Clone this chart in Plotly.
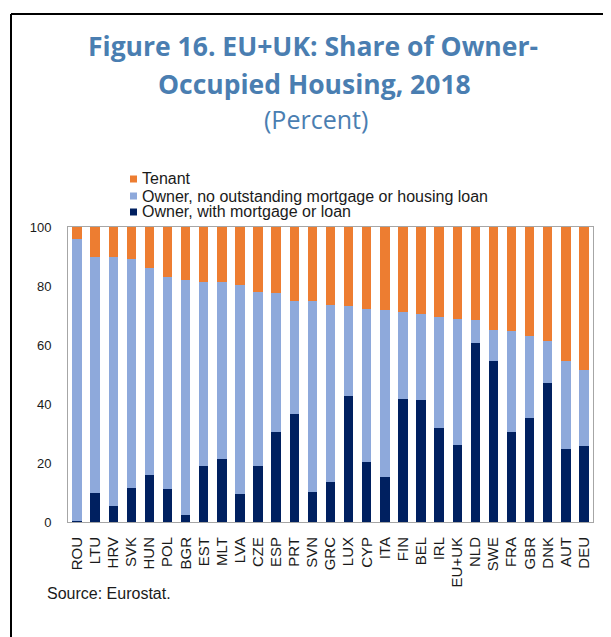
import plotly.graph_objects as go

countries = ["ROU", "LTU", "HRV", "SVK", "HUN", "POL", "BGR", "EST", "MLT", "LVA",
             "CZE", "ESP", "PRT", "SVN", "GRC", "LUX", "CYP", "ITA", "FIN", "BEL",
             "IRL", "EU+UK", "NLD", "SWE", "FRA", "GBR", "DNK", "AUT", "DEU"]

# shares in percent
with_mortgage = [0.5, 10.0, 5.5, 11.6, 15.9, 11.1, 2.5, 19.0, 21.5, 9.6,
                 19.0, 30.6, 36.5, 10.2, 13.5, 42.8, 20.2, 15.4, 41.6, 41.2,
                 32.0, 26.2, 60.7, 54.7, 30.6, 35.2, 47.2, 24.9, 25.7]
no_mortgage = [95.5, 80.0, 84.5, 77.6, 70.2, 72.1, 79.6, 62.2, 59.7, 70.9,
               59.1, 47.1, 38.4, 64.8, 60.2, 30.5, 51.9, 56.4, 29.7, 29.4,
               37.4, 42.7, 7.8, 10.3, 34.0, 27.8, 14.2, 29.7, 25.8]
tenant = [4.0, 10.0, 10.0, 10.8, 13.9, 16.8, 17.9, 18.8, 18.8, 19.5,
          21.9, 22.3, 25.1, 25.0, 26.3, 26.7, 27.9, 28.2, 28.7, 29.4,
          30.6, 31.1, 31.5, 35.0, 35.4, 37.0, 38.6, 45.4, 48.5]

series_names = ["Owner, with mortgage or loan",
                "Owner, no outstanding mortgage or housing loan",
                "Tenant"]
colors = ["#002060", "#8EA9DB", "#ED7D31"]

# the page body has an 8px margin, so work in window pixels and shift
OFF = 8
W, H = 611 - OFF, 637 - OFF
ML, MR, MT, MB = 68 - OFF, 18, 227 - OFF, 115
PW, PH = W - ML - MR, H - MT - MB

def px(x):
    return (x - OFF - ML) / PW

def py(y):
    return (MT + PH - (y - OFF)) / PH

fig = go.Figure()
for name, vals, col in zip(series_names, [with_mortgage, no_mortgage, tenant], colors):
    fig.add_trace(go.Bar(x=countries, y=vals, name=name, marker_color=col,
                         marker_line_width=0, showlegend=False))

font = "Liberation Sans, Arial, sans-serif"
title_font = "Open Sans, sans-serif"
title_col = "#4A7EB1"
ann = [
    dict(text="<b>Figure 16. EU+UK: Share of Owner-</b>", x=px(313), y=py(46),
         font=dict(family=title_font, size=26.5, color=title_col)),
    dict(text="<b>Occupied Housing, 2018</b>", x=px(314), y=py(84),
         font=dict(family=title_font, size=26.5, color=title_col)),
    dict(text="(Percent)", x=px(316), y=py(119),
         font=dict(family=title_font, size=25, color=title_col)),
]
for a in ann:
    a.update(xref="paper", yref="paper", showarrow=False, xanchor="center", yanchor="middle")

# legend drawn by hand (Tenant on top)
shapes = []
leg_rows = [179, 196, 212]
for row_y, name, col in zip(leg_rows, series_names[::-1], colors[::-1]):
    shapes.append(dict(type="rect", xref="paper", yref="paper",
                       x0=px(130), x1=px(137), y0=py(row_y + 3.5), y1=py(row_y - 3.5),
                       fillcolor=col, line_width=0))
    ann.append(dict(text=name, xref="paper", yref="paper", x=px(140), y=py(row_y),
                    xanchor="left", yanchor="middle", showarrow=False,
                    font=dict(family=font, size=16, color="#1a1a1a")))

ann.append(dict(text="Source: Eurostat.", xref="paper", yref="paper", x=px(45), y=py(593),
                xanchor="left", yanchor="middle", showarrow=False,
                font=dict(family=font, size=16, color="#1a1a1a")))

# outer frame (top and left edges visible)
shapes.append(dict(type="line", xref="paper", yref="paper", x0=px(11), x1=px(640),
                   y0=py(14), y1=py(14), line=dict(color="black", width=2)))
shapes.append(dict(type="line", xref="paper", yref="paper", x0=px(11), x1=px(11),
                   y0=py(14), y1=py(660), line=dict(color="black", width=2)))

fig.update_layout(
    barmode="stack", bargap=0.48,
    width=W, height=H,
    margin=dict(l=ML, r=MR, t=MT, b=MB),
    plot_bgcolor="white", paper_bgcolor="white",
    annotations=ann, shapes=shapes,
    font=dict(family=font, color="#1a1a1a"),
)
fig.update_xaxes(tickangle=-90, tickfont=dict(size=15), showline=True, linecolor="#A6A6A6",
                 linewidth=1, mirror=True, ticks="", ticklabelstandoff=8)
fig.update_yaxes(range=[0, 100], dtick=20, tickfont=dict(size=13), showgrid=False,
                 showline=True, linecolor="#A6A6A6", linewidth=1, mirror=True,
                 ticks="", ticklabelstandoff=13, zeroline=False)

fig.write_html("out.html")
